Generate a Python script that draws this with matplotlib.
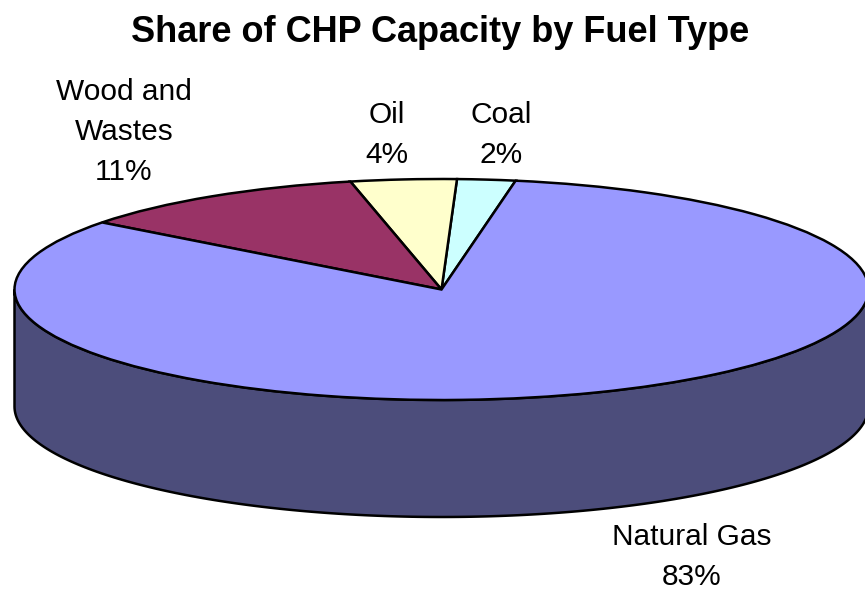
import matplotlib
matplotlib.use("Agg")
from matplotlib import pyplot as plt
from matplotlib import patches
from matplotlib.transforms import Affine2D
import numpy as np

plt.rcParams['font.family'] = ['Liberation Sans', 'DejaVu Sans']

# data (share of CHP capacity, %)
fuels = ["Natural Gas", "Wood and Wastes", "Oil", "Coal"]
shares = [82.6, 11.2, 4.0, 2.2]
label_text = ["Natural Gas", "Wood and\nWastes", "Oil", "Coal"]
top_colors = ["#9999FF", "#993366", "#FFFFCC", "#CCFFFF"]
side_color = "#4C4D7B"

# layout of the fake 3d pie (pixels)
W, H = 865, 591
cx, cy = 441.5, 289.5
rx, ry = 427, 110.5
depth = 117
start_angle = 80  # coal starts here, counter clockwise
label_pos = [(692, 557), (124, 132), (387, 135), (501, 135)]

fig = plt.figure(figsize=(W / 100, H / 100), dpi=100)
ax = fig.add_axes([0, 0, 1, 1])
ax.set_xlim(0, W)
ax.set_ylim(H, 0)
ax.axis("off")

unit = Affine2D().scale(rx, -ry).translate(cx, cy) + ax.transData

# side wall (front half only)
t = np.linspace(np.pi, 2 * np.pi, 200)
d = depth / ry
xs = np.concatenate([np.cos(t), np.cos(t[::-1])])
ys = np.concatenate([np.sin(t), np.sin(t[::-1]) - d])
side = patches.Polygon(np.column_stack([xs, ys]), closed=True, facecolor=side_color,
                       edgecolor="black", linewidth=1.8, transform=unit)
ax.add_patch(side)

# top face wedges, drawn counter clockwise from the start angle
theta = start_angle
for i in reversed(range(len(shares))):
    span = shares[i] / sum(shares) * 360
    w = patches.Wedge((0, 0), 1, theta, theta + span, facecolor=top_colors[i],
                      edgecolor="black", linewidth=1.8, transform=unit)
    ax.add_patch(w)
    theta += span

for i in range(len(shares)):
    ax.text(label_pos[i][0], label_pos[i][1],
            "{}\n{:.0f}%".format(label_text[i], shares[i]),
            ha="center", va="center", fontsize=21.5, linespacing=1.55)

ax.text(440, 33, "Share of CHP Capacity by Fuel Type", ha="center", va="center",
        fontsize=26, fontweight="bold")

fig.savefig("out.png", dpi=100)
